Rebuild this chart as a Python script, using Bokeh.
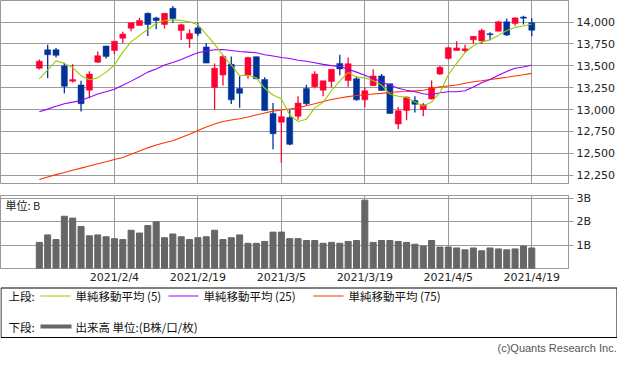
from bokeh.plotting import figure
from bokeh.layouts import column
from bokeh.models import Range1d, FixedTicker, ColumnDataSource, NumeralTickFormatter, Label
from bokeh.core.properties import value
from bokeh.embed import file_html
from bokeh.resources import INLINE

# ---------------- data ----------------
opens = [13472,13683,13683,13498,13325,13281,13221,13542,13727,13675,13815,13929,13962,14100,14048,13973,14158,13904,13808,13934,
         13716,13251,13395,13517,13240,13395,13605,13343,12956,12856,12908,12923,13240,13262,13221,13321,13528,13332,13351,13111,
         13273,13384,13295,12834,12989,13104,13000,13122,13406,13583,13675,13672,13797,13785,13867,13896,14003,13985,14058,13992]
closes = [13553,13627,13620,13266,13343,13067,13406,13616,13608,13782,13863,13992,14018,13973,14018,14100,14040,13970,13871,13871,
          13531,13472,13608,13111,13185,13594,13351,12989,12724,12919,12602,13074,13067,13406,13329,13461,13465,13524,13111,13215,
          13384,13218,12956,12986,13141,13060,13055,13251,13483,13708,13705,13694,13837,13904,13856,14003,13852,14048,14045,13907]
highs = [13572,13741,13705,13535,13517,13329,13439,13664,13727,13782,13889,13992,14051,14111,14062,14100,14184,13981,13915,13989,
         13760,13528,13620,13608,13381,13605,13605,13370,13074,12994,12994,13152,13284,13439,13329,13461,13627,13594,13381,13251,
         13461,13406,13295,13030,13152,13152,13074,13332,13498,13719,13782,13741,13837,13923,13885,14014,14040,14059,14073,14044]
lows = [13458,13362,13594,13185,13310,12978,13130,13531,13583,13631,13760,13896,13962,13841,13918,13926,13992,13796,13708,13841,
        13531,13000,13274,13063,13022,13351,13351,12989,12547,12392,12591,12883,13049,13243,13152,13259,13392,13262,13100,13030,
        13273,13218,12956,12779,12879,12967,12923,13115,13395,13572,13675,13653,13752,13749,13793,13896,13841,13959,13973,13837]
ma5 = [13351,13454,13558,13528,13480,13387,13340,13362,13428,13509,13657,13774,13848,13915,13985,14018,14025,14018,14003,13970,
       13860,13749,13620,13509,13387,13392,13362,13243,13166,13122,12938,12864,12890,13019,13082,13215,13325,13425,13373,13362,
       13332,13281,13177,13152,13141,13085,13041,13085,13196,13398,13528,13650,13730,13774,13797,13848,13904,13940,13956,13978]
ma25 = [12975,13005,13038,13067,13085,13104,13141,13177,13204,13232,13277,13325,13376,13428,13465,13509,13539,13572,13613,13650,
        13668,13683,13686,13675,13664,13657,13650,13627,13613,13595,13583,13564,13553,13535,13517,13502,13494,13461,13428,13392,
        13354,13318,13277,13243,13221,13204,13181,13170,13193,13204,13204,13215,13259,13307,13343,13392,13436,13472,13487,13509]
ma75 = [12200,12228,12256,12280,12305,12330,12355,12380,12403,12428,12452,12488,12525,12562,12595,12620,12643,12680,12717,12760,
        12801,12835,12864,12880,12894,12915,12938,12960,12982,12994,13006,13019,13043,13067,13092,13115,13132,13148,13160,13170,
        13178,13185,13195,13204,13207,13214,13221,13240,13259,13270,13281,13300,13318,13330,13343,13357,13370,13384,13398,13414]
volume_b = [1.12,1.44,1.24,2.24,2.16,1.80,1.40,1.44,1.36,1.28,1.24,1.64,1.52,1.84,2.00,1.32,1.48,1.36,1.24,1.32,
            1.36,1.64,1.24,1.32,1.44,1.08,1.08,1.16,1.56,1.56,1.28,1.28,1.20,1.20,1.08,1.12,1.08,1.16,1.20,2.93,
            1.12,1.20,1.20,1.16,1.12,1.04,0.96,1.20,0.92,0.92,0.88,0.80,0.88,0.76,0.88,0.84,0.80,0.84,0.96,0.88]
date_tick_idx = [9, 19, 29, 39, 49, 59]
date_tick_labels = ["2021/2/4", "2021/2/19", "2021/3/5", "2021/3/19", "2021/4/5", "2021/4/19"]
price_ticks = [12250, 12500, 12750, 13000, 13250, 13500, 13750, 14000]
volume_ticks = [1, 2, 3]
volume_tick_labels = ["1B", "2B", "3B"]

UP = "#ff0033"
DOWN = "#003399"
GRID = "#9a9a9a"
TICKFONT = "DejaVu Sans"
JPFONT = "Noto Sans CJK JP"

n = len(opens)
idx = list(range(n))
X0, X1 = -4.65, 63.4
W = 617
RB = 47  # right border for the value axes


def style_common(p):
    p.background_fill_color = "white"
    p.border_fill_color = "white"
    p.outline_line_color = GRID
    p.outline_line_width = 1


def style_yaxis(ax):
    ax.axis_line_color = GRID
    ax.major_tick_line_color = GRID
    ax.major_tick_out = 5
    ax.major_tick_in = 0
    ax.minor_tick_line_color = None
    ax.major_label_text_font = TICKFONT
    ax.major_label_text_font_size = "11px"
    ax.major_label_text_color = "#222222"
    ax.major_label_standoff = 3


# ---------------- price panel ----------------
p1 = figure(width=W, height=184, output_backend="svg", toolbar_location=None,
            x_range=Range1d(X0, X1), y_range=Range1d(12143, 14247),
            y_axis_location="right", min_border_left=0, min_border_right=RB,
            min_border_top=0, min_border_bottom=0)
style_common(p1)
p1.xaxis.visible = False
p1.xgrid.ticker = FixedTicker(ticks=date_tick_idx)
p1.ygrid.ticker = FixedTicker(ticks=price_ticks)
for g in (p1.xgrid, p1.ygrid):
    g.grid_line_color = GRID
    g.grid_line_width = 1
p1.yaxis.ticker = FixedTicker(ticks=price_ticks)
p1.yaxis.formatter = NumeralTickFormatter(format="0,0")
style_yaxis(p1.yaxis[0])

src = ColumnDataSource(dict(
    x=idx, o=opens, c=closes, h=highs, l=lows,
    top=[max(a, b) for a, b in zip(opens, closes)],
    bot=[min(a, b) for a, b in zip(opens, closes)],
    col=[UP if c >= o else DOWN for o, c in zip(opens, closes)],
))
p1.segment(x0="x", y0="h", x1="x", y1="l", color="col", line_width=1.3, source=src)
p1.vbar(x="x", top="top", bottom="bot", width=0.72, fill_color="col", line_color="col",
        line_width=0.5, source=src)
p1.line(idx, ma75, color="#ff3300", line_width=1.1)
p1.line(idx, ma25, color="#9900ff", line_width=1.1)
p1.line(idx, ma5, color="#99cc00", line_width=1.1)

# ---------------- volume panel ----------------
p2 = figure(width=W, height=102, output_backend="svg", toolbar_location=None,
            x_range=p1.x_range, y_range=Range1d(0, 3.13),
            y_axis_location="right", min_border_left=0, min_border_right=RB,
            min_border_top=11, min_border_bottom=15)
style_common(p2)
p2.xgrid.ticker = FixedTicker(ticks=date_tick_idx)
p2.ygrid.ticker = FixedTicker(ticks=volume_ticks)
for g in (p2.xgrid, p2.ygrid):
    g.grid_line_color = GRID
    g.grid_line_width = 1
p2.yaxis.ticker = FixedTicker(ticks=volume_ticks)
p2.yaxis.major_label_overrides = {t: s for t, s in zip(volume_ticks, volume_tick_labels)}
style_yaxis(p2.yaxis[0])
p2.xaxis.ticker = FixedTicker(ticks=date_tick_idx)
p2.xaxis.major_label_overrides = {t: s for t, s in zip(date_tick_idx, date_tick_labels)}
p2.xaxis.axis_line_color = None
p2.xaxis.major_tick_line_color = None
p2.xaxis.minor_tick_line_color = None
p2.xaxis.major_tick_out = 0
p2.xaxis.major_label_standoff = 2
p2.xaxis.major_label_text_font = TICKFONT
p2.xaxis.major_label_text_font_size = "11px"
p2.xaxis.major_label_text_color = "#222222"
p2.vbar(x=idx, top=volume_b, width=0.72, color="#666666")
p2.add_layout(Label(x=X0 + 0.6, y=3.08, text="単位: B", text_font=JPFONT,
                    text_font_size="11px", text_color="#222222", text_baseline="top"))

# ---------------- legend panel ----------------
H3 = 357 - 184 - 102
p3 = figure(width=W, height=H3, output_backend="svg", toolbar_location=None,
            x_range=Range1d(0, W), y_range=Range1d(H3, 0),
            min_border_left=0, min_border_right=0, min_border_top=0, min_border_bottom=0)
p3.frame_align = False
p3.axis.visible = False
p3.grid.visible = False
p3.outline_line_color = None
p3.background_fill_color = "white"
p3.border_fill_color = "white"
p3.quad(left=0.5, right=W - 0.5, top=1.5, bottom=51, fill_color=None, line_color="black", line_width=1)

row1_y, row2_y = 9.5, 40
tx = dict(text_font=value(JPFONT), text_font_size="11.5px", text_color="#111111", text_baseline="middle")
p3.text(x=[8], y=[row1_y], text=["上段:"], **tx)
legend_items = [("#99cc00", 40, "単純移動平均 (5)"), ("#9900ff", 168, "単純移動平均 (25)"), ("#ff3300", 313, "単純移動平均 (75)")]
for colr, x0, lab in legend_items:
    p3.line([x0, x0 + 30], [row1_y, row1_y], color=colr, line_width=1.2)
    p3.text(x=[x0 + 35], y=[row1_y], text=[lab], **tx)
p3.text(x=[8], y=[row2_y], text=["下段:"], **tx)
p3.line([40, 71], [row2_y, row2_y], color="#666666", line_width=4)
p3.text(x=[75], y=[row2_y], text=["出来高 単位:(B株/口/枚)"], **tx)
p3.text(x=[497], y=[61], text=["(c)Quants Research Inc."], text_font=value("Liberation Sans"),
        text_font_size="11px", text_color="#555555", text_align="left", text_baseline="middle")

layout = column(p1, p2, p3, spacing=0)
open("out.html", "w").write(file_html(layout, INLINE))
